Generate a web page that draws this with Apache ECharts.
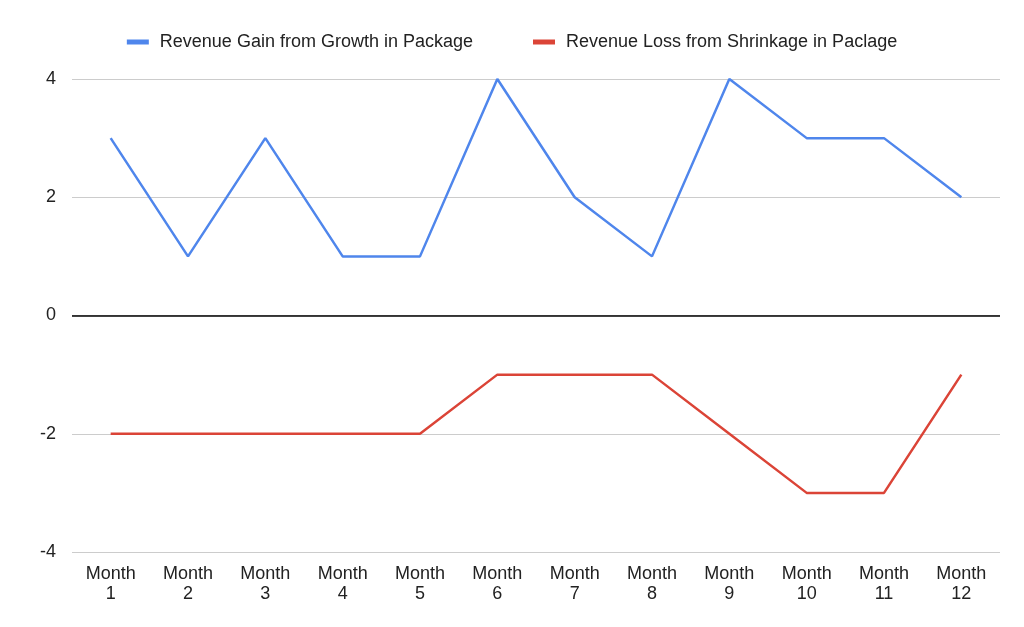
<!DOCTYPE html>
<html>
<head>
<meta charset="utf-8">
<script src="https://cdn.jsdelivr.net/npm/echarts@6/dist/echarts.min.js"></script>
<style>html,body{margin:0;padding:0;background:#fff}#chart{width:1024px;height:627px}</style>
</head>
<body>
<div id="chart"></div>
<script>
var months = ['Month\n1','Month\n2','Month\n3','Month\n4','Month\n5','Month\n6','Month\n7','Month\n8','Month\n9','Month\n10','Month\n11','Month\n12'];
var gain = [3, 1, 3, 1, 1, 4, 2, 1, 4, 3, 3, 2];
var loss = [-2, -2, -2, -2, -2, -1, -1, -1, -2, -3, -3, -1];

var chart = echarts.init(document.getElementById('chart'));
chart.setOption({
    animation: false,
    textStyle: { fontFamily: 'Arial, Liberation Sans, sans-serif' },
    legend: {
        top: 28, left: 'center', itemGap: 60,
        icon: 'rect', itemWidth: 22, itemHeight: 5,
        textStyle: { fontSize: 18, color: '#222', padding: [0, 0, 0, 6] }
    },
    grid: { left: 72, right: 24, top: 79, bottom: 75 },
    xAxis: {
        type: 'category',
        data: months,
        boundaryGap: true,
        axisLine: { show: false },
        axisTick: { show: false },
        axisLabel: { fontSize: 18, color: '#222', lineHeight: 20, margin: 12 }
    },
    yAxis: {
        type: 'value',
        min: -4, max: 4, interval: 2,
        axisLabel: { fontSize: 18, color: '#222', margin: 16 },
        splitLine: { lineStyle: { color: '#ccc' } }
    },
    series: [
        {
            name: 'Revenue Gain from Growth in Package',
            type: 'line', data: gain, symbol: 'none',
            lineStyle: { color: '#4f86ec', width: 2.5 }, itemStyle: { color: '#4f86ec' },
            markLine: {
                silent: true, symbol: 'none', label: { show: false },
                lineStyle: { color: '#000', type: 'solid', width: 1.5 },
                data: [{ yAxis: 0 }]
            }
        },
        {
            name: 'Revenue Loss from Shrinkage in Paclage',
            type: 'line', data: loss, symbol: 'none',
            lineStyle: { color: '#db4437', width: 2.5 }, itemStyle: { color: '#db4437' }
        }
    ]
});
</script>
</body>
</html>
